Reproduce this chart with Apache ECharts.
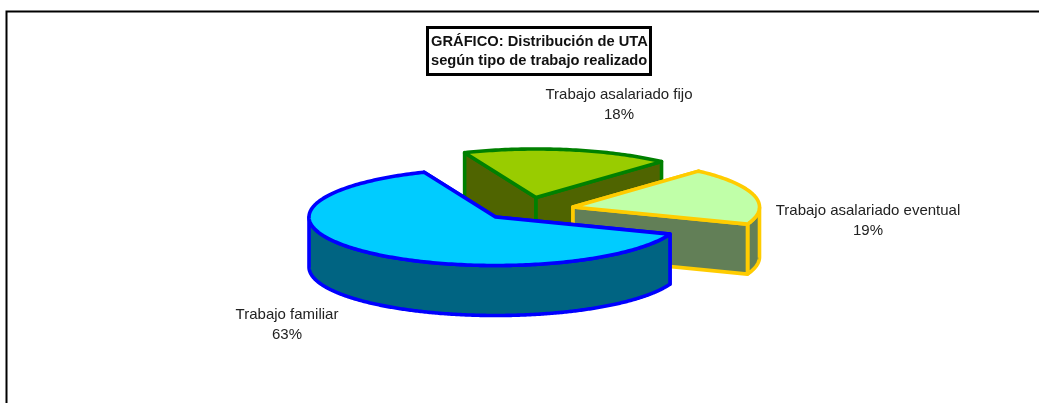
<!DOCTYPE html>
<html><head><meta charset="utf-8">
<style>html,body{margin:0;padding:0;background:#fff}#c{width:1039px;height:403px}</style>
<script src="https://cdn.jsdelivr.net/npm/echarts@6/dist/echarts.min.js"></script>
</head><body><div id="c"></div>
<script>
const categories = ['Trabajo asalariado fijo', 'Trabajo asalariado eventual', 'Trabajo familiar'];
const shares = [18, 19, 63];
const titleLines = ['GRÁFICO: Distribución de UTA', 'según tipo de trabajo realizado'];

const topColors = ['#99CC00', '#C0FFA8', '#00CCFF'];
const sideColors = ['#4F6400', '#627F57', '#006482'];
const edgeColors = ['#008000', '#FFCC00', '#0000FF'];
const centers = [[536, 197.5], [573, 207], [495.5, 217]];
const labelAt = [[619, 104.5], [868, 220.5], [287, 325]];
const RX = 186.5, RY = 48.5, H = 50, START = 112.5, EDGE = 3.6;

const total = shares.reduce((a, b) => a + b, 0);
const rad = d => d * Math.PI / 180;
function rimPoint(c, t) { return [c[0] + RX * Math.cos(rad(t)), c[1] - RY * Math.sin(rad(t))]; }
function arc(c, from, to) {
  const pts = [], n = Math.max(2, Math.ceil(Math.abs(from - to)));
  for (let i = 0; i <= n; i++) pts.push(rimPoint(c, from + (to - from) * i / n));
  return pts;
}
const down = p => [p[0], p[1] + H];

function wedge(params, api) {
  const i = params.dataIndex;
  const before = shares.slice(0, i).reduce((a, b) => a + b, 0);
  const t0 = START - before / total * 360;
  const t1 = t0 - api.value(1) / total * 360;
  const c = centers[i];
  const poly = (points, fill) => ({
    type: 'polygon', shape: { points },
    style: { fill, stroke: edgeColors[i], lineWidth: EDGE, lineJoin: 'round' }
  });
  const children = [];
  const a = rimPoint(c, t0), b = rimPoint(c, t1);
  children.push(poly([c, a, down(a), down(c)], sideColors[i]));
  children.push(poly([c, b, down(b), down(c)], sideColors[i]));
  // visible outer wall: the part of the rim in the lower half of the ellipse
  const rim = [];
  for (let t = t0; t >= t1; t -= 0.5) {
    if (Math.sin(rad(t)) <= 0) rim.push(rimPoint(c, t));
  }
  if (rim.length > 1) {
    children.push(poly(rim.concat(rim.slice().reverse().map(down)), sideColors[i]));
  }
  children.push(poly([c].concat(arc(c, t0, t1)), topColors[i]));
  const lab = labelAt[i];
  children.push({
    type: 'text', z2: 100,
    style: {
      x: lab[0], y: lab[1], text: categories[i] + '\n' + api.value(1) + '%',
      align: 'center', verticalAlign: 'middle', lineHeight: 20,
      font: '15px "Liberation Sans", Arial, sans-serif', fill: '#222'
    }
  });
  return { type: 'group', children };
}

const chart = echarts.init(document.getElementById('c'), null, { renderer: 'canvas' });
chart.setOption({
  animation: false,
  backgroundColor: '#fff',
  title: {
    text: titleLines.join('\n'),
    left: 427, top: 27, padding: [5, 3, 5, 4],
    borderColor: '#000', borderWidth: 3,
    textStyle: { fontFamily: '"Liberation Sans", Arial, sans-serif', fontWeight: 'bold', fontSize: 14.7, lineHeight: 19, color: '#111', align: 'center' },
    textAlign: 'left'
  },
  graphic: [{
    type: 'polyline', silent: true,
    shape: { points: [[6.5, 403], [6.5, 11.5], [1039, 11.5]] },
    style: { fill: 'none', stroke: '#000', lineWidth: 2 }
  }],
  series: [{
    type: 'custom', coordinateSystem: 'none', clip: false,
    renderItem: wedge,
    data: categories.map((n, i) => ({ name: n, value: [i, shares[i]] }))
  }]
});
</script></body></html>
